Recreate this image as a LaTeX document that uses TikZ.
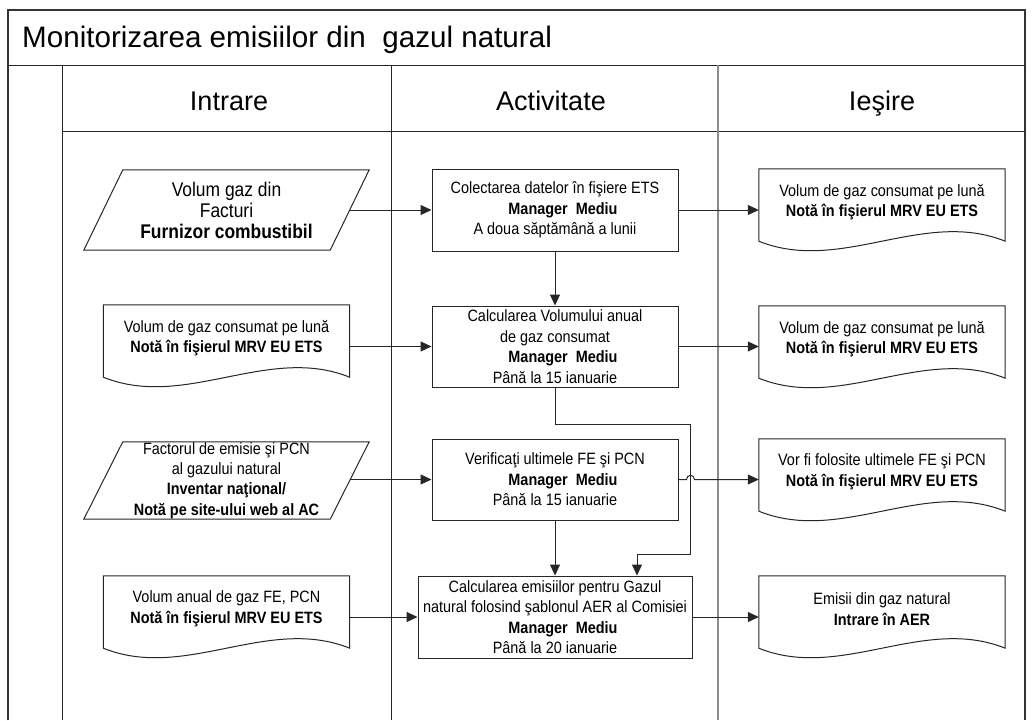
\documentclass[tikz,border=0pt]{standalone}
\usepackage{fontspec}
\setmainfont{Liberation Sans}[FakeStretch=0.88]
\newfontfamily\plainsans{Liberation Sans}
\usetikzlibrary{arrows.meta,calc}
\newcommand\docshape[1]{%
  \draw[shp] ($(#1.south west)+(0,6)$) -- (#1.north west) -- (#1.north east) -- ($(#1.south east)+(0,6)$)
    .. controls +(-82,-33) and +(82,33) .. ($(#1.south west)+(0,6)$) -- cycle;}
\newcommand\parashape[1]{%
  \draw[shp] ($(#1.north west)+(19.5,0)$) -- ($(#1.north east)+(19.5,0)$) -- ($(#1.south east)+(-19.5,0)$) -- ($(#1.south west)+(-19.5,0)$) -- cycle;}
\begin{document}
\begin{tikzpicture}[x=1pt,y=-1pt,
  frame/.style={draw=black!80, line width=1.2pt},
  lane/.style={draw=black!85, line width=1pt},
  shp/.style={draw=black!85, line width=1pt},
  arr/.style={draw=black!85, line width=1pt, -{Triangle[length=11pt,width=10pt]}},
  bodyf/.style={font=\fontsize{16.4}{20.5}\selectfont, align=center, text=black},
  box/.style={shp, rectangle, minimum width=246pt, minimum height=81pt, inner sep=0pt, bodyf},
  doc/.style={rectangle, minimum width=246pt, minimum height=66pt, inner sep=0pt, bodyf},
  para/.style={rectangle, minimum width=246pt, minimum height=80pt, inner sep=0pt, bodyf},
  hdr/.style={font=\plainsans\fontsize{27}{30}\selectfont, inner sep=0pt, anchor=base},
  ttl/.style={font=\plainsans\fontsize{29.6}{34}\selectfont, inner sep=0pt, anchor=base west},
]
\useasboundingbox (0,0) rectangle (1033,720);
% frame and lanes
\draw[frame] (8,720) -- (8,10) -- (1025,10) -- (1025,720);
\draw[lane] (8,65) -- (1025,65);
\draw[lane] (62,65) -- (62,720);
\draw[lane] (62,131) -- (1025,131);
\draw[lane] (391,65) -- (391,720);
\draw[draw=black!45, line width=1.6pt] (718,65) -- (718,720);
% titles
\node[ttl] (title) at (22,47) {Monitorizarea emisiilor din\ \ gazul natural};
\node[hdr] (hin) at (229,110) {Intrare};
\node[hdr] (hact) at (551,110) {Activitate};
\node[hdr] (hout) at (882,110) {Ieşire};
% input column
\node[para, font=\fontsize{19.8}{21}\selectfont] (p1) at (226.5,210) {Volum gaz din\\Facturi\\\textbf{Furnizor combustibil}};
\parashape{p1}
\node[doc] (i2) at (226.5,338) {Volum de gaz consumat pe lună\\\textbf{Notă în fişierul MRV EU ETS}};
\docshape{i2}
\node[para, minimum height=77pt, font=\fontsize{16.4}{20.3}\selectfont] (p3) at (226.5,480.5) {Factorul de emisie şi PCN\\al gazului natural\\\textbf{Inventar naţional/}\\\textbf{Notă pe site-ului web al AC}};
\parashape{p3}
\node[doc] (i4) at (226.5,609) {Volum anual de gaz FE, PCN\\\textbf{Notă în fişierul MRV EU ETS}};
\docshape{i4}
% activity column
\node[box, minimum height=82pt] (b1) at (555,210) {Colectarea datelor în fişiere ETS\\\hspace*{16pt}\textbf{Manager\ \ Mediu}\\A doua săptămână a lunii};
\node[box] (b2) at (555,346.5) {Calcularea Volumului anual\\de gaz consumat\\\hspace*{16pt}\textbf{Manager\ \ Mediu}\\Până la 15 ianuarie};
\node[box] (b3) at (555,479.5) {Verificaţi ultimele FE şi PCN\\\hspace*{16pt}\textbf{Manager\ \ Mediu}\\Până la 15 ianuarie};
\node[box, minimum width=274pt, minimum height=82pt] (b4) at (555,617) {Calcularea emisiilor pentru Gazul\\natural folosind şablonul AER al Comisiei\\\hspace*{16pt}\textbf{Manager\ \ Mediu}\\Până la 20 ianuarie};
% output column
\node[doc] (o1) at (882,202) {Volum de gaz consumat pe lună\\\textbf{Notă în fişierul MRV EU ETS}};
\docshape{o1}
\node[doc] (o2) at (882,339) {Volum de gaz consumat pe lună\\\textbf{Notă în fişierul MRV EU ETS}};
\docshape{o2}
\node[doc] (o3) at (882,472) {Vor fi folosite ultimele FE şi PCN\\\textbf{Notă în fişierul MRV EU ETS}};
\docshape{o3}
\node[doc] (o4) at (882,609) {Emisii din gaz natural\\\textbf{Intrare în AER}};
\docshape{o4}
% connectors
\draw[arr] (p1.east) -- (b1.west);
\draw[arr] (b1.east) -- (b1.east -| o1.west);
\draw[arr] (b1.south) -- (b2.north);
\draw[arr] (b2.west -| i2.east) -- (b2.west);
\draw[arr] (b2.east) -- (b2.east -| o2.west);
\draw[arr] (b3.west -| p3.east) -- (b3.west);
\draw[arr] (b3.east) -- ($(b3.east)+(8,0)$)
  .. controls ($(b3.east)+(8,-5.5)$) and ($(b3.east)+(16,-5.5)$) .. ($(b3.east)+(16,0)$)
  -- (b3.east -| o3.west);
\draw[arr] (b3.south) -- (b3.south |- b4.north);
\draw[arr] (b2.south) -- ++(0,37) -| ($(b4.north)+(135,-21)$) -| ($(b4.north)+(82,0)$);
\draw[arr] (b4.west -| i4.east) -- (b4.west);
\draw[arr] (b4.east) -- (b4.east -| o4.west);
\end{tikzpicture}
\end{document}
